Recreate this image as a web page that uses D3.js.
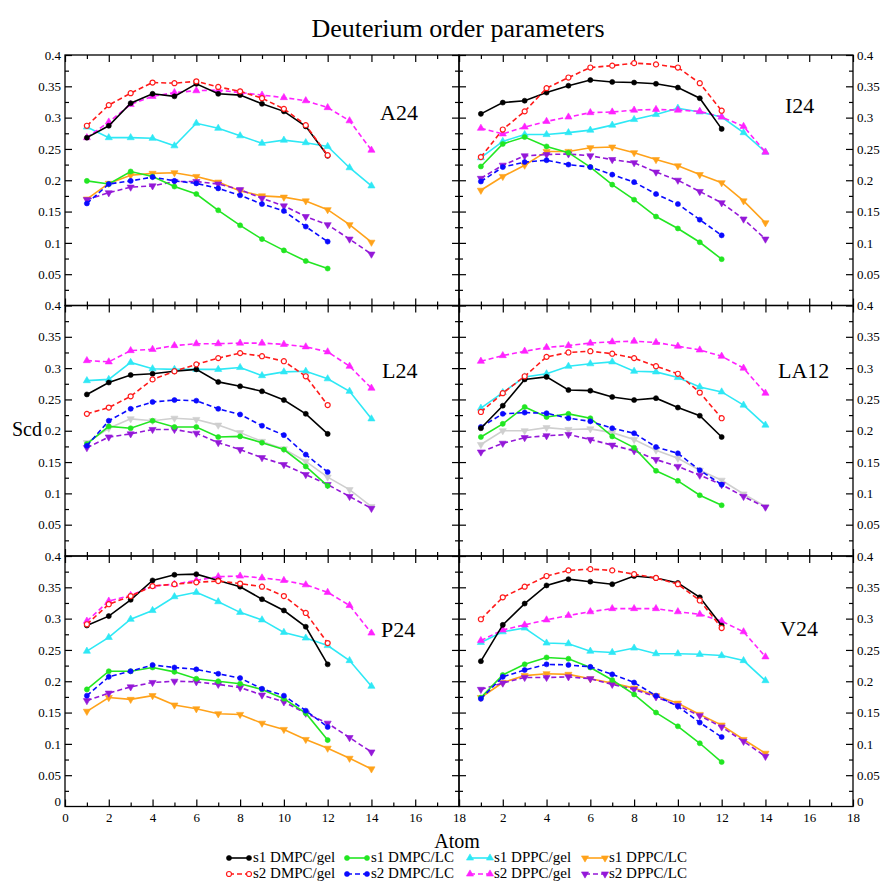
<!DOCTYPE html>
<html>
<head>
<meta charset="utf-8">
<script src="https://cdn.jsdelivr.net/npm/d3@7"></script>
<style>
  body { margin: 0; background: #fff; }
  svg text { font-family: "Liberation Serif", "DejaVu Serif", "Times New Roman", Times, serif !important; fill: #000; }
</style>
</head>
<body>
<div id="chart"></div>
<script>
// series order used in every panel array below
var seriesNames = ["s1 DMPC/gel", "s2 DMPC/gel", "s1 DMPC/LC", "s2 DMPC/LC",
                   "s1 DPPC/gel", "s2 DPPC/gel", "s1 DPPC/LC", "s2 DPPC/LC", "extra"];
var panelNames = ["A24", "I24", "L24", "LA12", "P24", "V24"];
var dmpcAtoms = [1, 2, 3, 4, 5, 6, 7, 8, 9, 10, 11, 12];
var dppcAtoms = [1, 2, 3, 4, 5, 6, 7, 8, 9, 10, 11, 12, 13, 14];
var xTicks = [0, 2, 4, 6, 8, 10, 12, 14, 16, 18];
var yTicks = [0.05, 0.1, 0.15, 0.2, 0.25, 0.3, 0.35, 0.4];

var A24 = [
  [0.268, 0.287, 0.323, 0.338, 0.334, 0.354, 0.338, 0.336, 0.322, 0.310, 0.286, 0.239],
  [0.287, 0.320, 0.339, 0.356, 0.355, 0.358, 0.349, 0.342, 0.331, 0.314, 0.288, 0.240],
  [0.199, 0.194, 0.214, 0.206, 0.190, 0.178, 0.152, 0.128, 0.106, 0.088, 0.071, 0.059],
  [0.163, 0.194, 0.199, 0.205, 0.199, 0.195, 0.187, 0.176, 0.162, 0.151, 0.126, 0.102],
  [0.285, 0.268, 0.268, 0.267, 0.255, 0.291, 0.283, 0.271, 0.259, 0.264, 0.260, 0.254, 0.220, 0.191],
  [0.268, 0.293, 0.321, 0.334, 0.340, 0.343, 0.344, 0.340, 0.336, 0.332, 0.327, 0.316, 0.295, 0.248],
  [0.170, 0.195, 0.208, 0.211, 0.212, 0.206, 0.197, 0.183, 0.175, 0.173, 0.167, 0.153, 0.129, 0.101],
  [0.169, 0.180, 0.189, 0.191, 0.198, 0.198, 0.194, 0.185, 0.171, 0.159, 0.142, 0.129, 0.106, 0.082],
  null
];
var I24 = [
  [0.306, 0.324, 0.327, 0.340, 0.351, 0.360, 0.357, 0.356, 0.354, 0.348, 0.331, 0.282],
  [0.237, 0.281, 0.310, 0.347, 0.364, 0.380, 0.383, 0.387, 0.385, 0.380, 0.355, 0.311],
  [0.222, 0.258, 0.269, 0.254, 0.244, 0.221, 0.193, 0.169, 0.142, 0.123, 0.101, 0.074],
  [0.198, 0.221, 0.229, 0.232, 0.225, 0.221, 0.209, 0.197, 0.178, 0.162, 0.137, 0.112],
  [0.236, 0.262, 0.273, 0.273, 0.276, 0.280, 0.288, 0.297, 0.305, 0.315, 0.309, 0.301, 0.276, 0.245],
  [0.283, 0.274, 0.285, 0.294, 0.301, 0.308, 0.309, 0.312, 0.313, 0.312, 0.310, 0.301, 0.286, 0.245],
  [0.184, 0.206, 0.224, 0.246, 0.246, 0.252, 0.253, 0.244, 0.233, 0.223, 0.209, 0.196, 0.167, 0.132],
  [0.203, 0.224, 0.239, 0.241, 0.242, 0.239, 0.233, 0.228, 0.213, 0.200, 0.182, 0.164, 0.138, 0.106],
  null
];
var L24 = [
  [0.258, 0.277, 0.289, 0.291, 0.295, 0.298, 0.278, 0.271, 0.263, 0.249, 0.227, 0.195],
  [0.227, 0.237, 0.255, 0.282, 0.295, 0.306, 0.316, 0.324, 0.319, 0.311, 0.287, 0.241],
  [0.179, 0.207, 0.204, 0.216, 0.206, 0.206, 0.190, 0.191, 0.181, 0.170, 0.143, 0.112],
  [0.176, 0.216, 0.235, 0.246, 0.249, 0.248, 0.235, 0.226, 0.208, 0.193, 0.162, 0.134],
  [0.280, 0.282, 0.309, 0.299, 0.298, 0.298, 0.298, 0.301, 0.288, 0.294, 0.295, 0.283, 0.263, 0.219],
  [0.312, 0.310, 0.328, 0.330, 0.336, 0.339, 0.339, 0.340, 0.340, 0.338, 0.334, 0.326, 0.303, 0.268],
  null,
  [0.173, 0.190, 0.195, 0.202, 0.202, 0.196, 0.181, 0.170, 0.157, 0.146, 0.130, 0.114, 0.095, 0.076],
  [0.181, 0.204, 0.219, 0.216, 0.220, 0.218, 0.209, 0.197, 0.183, 0.171, 0.151, 0.126, 0.106, 0.079]
];
var LA12 = [
  [0.204, 0.240, 0.282, 0.286, 0.265, 0.264, 0.254, 0.249, 0.252, 0.237, 0.224, 0.190],
  [0.230, 0.260, 0.287, 0.318, 0.325, 0.327, 0.323, 0.316, 0.303, 0.291, 0.261, 0.220],
  [0.190, 0.211, 0.238, 0.222, 0.227, 0.220, 0.191, 0.173, 0.136, 0.120, 0.097, 0.081],
  [0.206, 0.227, 0.229, 0.228, 0.220, 0.215, 0.204, 0.196, 0.174, 0.164, 0.137, 0.114],
  [0.236, 0.261, 0.286, 0.291, 0.303, 0.307, 0.310, 0.295, 0.294, 0.285, 0.270, 0.262, 0.241, 0.209],
  [0.311, 0.320, 0.327, 0.333, 0.336, 0.340, 0.342, 0.343, 0.341, 0.335, 0.329, 0.319, 0.300, 0.260],
  null,
  [0.166, 0.180, 0.189, 0.192, 0.194, 0.186, 0.177, 0.168, 0.154, 0.143, 0.129, 0.114, 0.095, 0.078],
  [0.178, 0.200, 0.200, 0.205, 0.202, 0.203, 0.197, 0.186, 0.169, 0.156, 0.137, 0.121, 0.099, 0.079]
];
var P24 = [
  [0.289, 0.304, 0.330, 0.361, 0.370, 0.371, 0.361, 0.351, 0.331, 0.313, 0.287, 0.227],
  [0.291, 0.323, 0.336, 0.352, 0.355, 0.358, 0.360, 0.356, 0.351, 0.336, 0.309, 0.261],
  [0.187, 0.216, 0.216, 0.222, 0.215, 0.204, 0.200, 0.196, 0.187, 0.172, 0.149, 0.106],
  [0.177, 0.207, 0.216, 0.226, 0.222, 0.219, 0.212, 0.205, 0.188, 0.177, 0.153, 0.127],
  [0.248, 0.270, 0.299, 0.313, 0.335, 0.342, 0.327, 0.310, 0.298, 0.278, 0.269, 0.257, 0.233, 0.192],
  [0.296, 0.328, 0.337, 0.352, 0.355, 0.361, 0.367, 0.368, 0.365, 0.361, 0.354, 0.342, 0.321, 0.277],
  [0.152, 0.174, 0.171, 0.177, 0.162, 0.156, 0.148, 0.147, 0.133, 0.123, 0.107, 0.093, 0.077, 0.060],
  [0.169, 0.181, 0.191, 0.198, 0.200, 0.199, 0.195, 0.190, 0.178, 0.167, 0.149, 0.133, 0.110, 0.087],
  null
];
var V24 = [
  [0.232, 0.290, 0.324, 0.353, 0.363, 0.359, 0.355, 0.368, 0.365, 0.357, 0.334, 0.289],
  [0.299, 0.334, 0.351, 0.368, 0.377, 0.379, 0.377, 0.371, 0.365, 0.355, 0.329, 0.285],
  [0.174, 0.210, 0.227, 0.238, 0.236, 0.222, 0.202, 0.179, 0.150, 0.128, 0.101, 0.071],
  [0.172, 0.207, 0.218, 0.227, 0.226, 0.223, 0.211, 0.198, 0.177, 0.160, 0.134, 0.111],
  [0.262, 0.279, 0.285, 0.261, 0.260, 0.248, 0.246, 0.253, 0.244, 0.244, 0.243, 0.241, 0.233, 0.201],
  [0.265, 0.282, 0.290, 0.298, 0.305, 0.311, 0.316, 0.316, 0.316, 0.311, 0.307, 0.296, 0.279, 0.239],
  [0.174, 0.198, 0.209, 0.212, 0.211, 0.204, 0.197, 0.189, 0.177, 0.165, 0.147, 0.130, 0.107, 0.085],
  [0.187, 0.197, 0.206, 0.206, 0.207, 0.204, 0.195, 0.187, 0.175, 0.161, 0.145, 0.127, 0.104, 0.080],
  null
];
var panelData = [A24, I24, L24, LA12, P24, V24];

// styles, kept apart from the values
var colors = ["#000000", "#ff1a1a", "#22e622", "#0a0aff", "#2ee8f5", "#ff22ff", "#ffa21a", "#9418d8", "#cfcfcf"];
var dashed = [false, true, false, true, false, true, false, true, false];
var symbols = [d3.symbolCircle, d3.symbolCircle, d3.symbolCircle, d3.symbolCircle,
               d3.symbolTriangle, d3.symbolTriangle, "down", "down", "down"];
var hollow = [false, true, false, false, false, false, false, false, false];
var drawOrder = [8, 4, 5, 6, 7, 2, 3, 0, 1];

var W = 882, H = 888;
var left = 65, top0 = 55, pw = 394, ph = 250.5;
var labelPos = [[380, 120], [785, 113], [382, 378], [778, 378], [381, 637], [780, 636]];
var serif = "'Liberation Serif', 'DejaVu Serif', 'Times New Roman', Times, serif";

var svg = d3.select("#chart").append("svg")
    .attr("width", W).attr("height", H)
    .attr("font-family", serif);

svg.append("text")
    .attr("x", 458).attr("y", 37)
    .attr("text-anchor", "middle")
    .style("font-size", "26px")
    .text("Deuterium order parameters");

svg.append("text")
    .attr("x", 27).attr("y", 436)
    .attr("text-anchor", "middle")
    .style("font-size", "20px")
    .text("Scd");

svg.append("text")
    .attr("x", 457).attr("y", 848)
    .attr("text-anchor", "middle")
    .style("font-size", "20px")
    .text("Atom");

function markerPath(i, size) {
    var t = symbols[i] === "down" ? d3.symbolTriangle : symbols[i];
    return d3.symbol().type(t).size(size)();
}
function markerRot(i) { return symbols[i] === "down" ? " rotate(180)" : ""; }

var x = d3.scaleLinear().domain([0, 18]).range([0, pw]);
var y = d3.scaleLinear().domain([0, 0.4]).range([ph, 0]);
var minorX = d3.range(1, 18, 2);
var minorY = d3.range(0.025, 0.4, 0.05);

panelNames.forEach(function (name, p) {
    var col = p % 2, row = Math.floor(p / 2);
    var g = svg.append("g")
        .attr("transform", "translate(" + (left + col * pw) + "," + (top0 + row * ph) + ")");

    // inward ticks on all four sides, major and minor
    function tickAxis(axis, tr) {
        var a = g.append("g").attr("transform", tr).call(axis);
        a.select(".domain").remove();
        a.selectAll("line").attr("stroke", "#000").attr("stroke-width", 1.2);
        return a;
    }
    tickAxis(d3.axisBottom(x).tickValues(xTicks).tickSize(-7).tickFormat(""), "translate(0," + ph + ")");
    tickAxis(d3.axisBottom(x).tickValues(minorX).tickSize(-4).tickFormat(""), "translate(0," + ph + ")");
    tickAxis(d3.axisTop(x).tickValues(xTicks).tickSize(-7).tickFormat(""), "translate(0,0)");
    tickAxis(d3.axisTop(x).tickValues(minorX).tickSize(-4).tickFormat(""), "translate(0,0)");
    tickAxis(d3.axisLeft(y).tickValues(yTicks).tickSize(-7).tickFormat(""), "translate(0,0)");
    tickAxis(d3.axisLeft(y).tickValues(minorY).tickSize(-4).tickFormat(""), "translate(0,0)");
    tickAxis(d3.axisRight(y).tickValues(yTicks).tickSize(-7).tickFormat(""), "translate(" + pw + ",0)");
    tickAxis(d3.axisRight(y).tickValues(minorY).tickSize(-4).tickFormat(""), "translate(" + pw + ",0)");

    // value labels
    var yLabelVals = row === 2 ? [0].concat(yTicks) : yTicks;
    var fmt = function (d) { return String(+d.toFixed(2)); };
    var ya = col === 0
        ? d3.axisLeft(y).tickValues(yLabelVals).tickSize(0).tickPadding(4).tickFormat(fmt)
        : d3.axisRight(y).tickValues(yLabelVals).tickSize(0).tickPadding(4).tickFormat(fmt);
    var yl = g.append("g").attr("transform", "translate(" + (col === 0 ? 0 : pw) + ",0)").call(ya);
    yl.attr("font-family", serif);
    yl.select(".domain").remove();
    yl.selectAll("text").style("font-size", "13px")
        .attr("dy", function (d) { return d === 0 ? "-0.1em" : "0.32em"; });

    if (row === 2) {
        var xv = col === 0 ? xTicks : xTicks.slice(1);
        var xl = g.append("g").attr("transform", "translate(0," + ph + ")")
            .call(d3.axisBottom(x).tickValues(xv).tickSize(0).tickPadding(6).tickFormat(d3.format("d")));
        xl.attr("font-family", serif);
        xl.select(".domain").remove();
        xl.selectAll("text").style("font-size", "13px");
    }

    g.append("rect")
        .attr("width", pw).attr("height", ph)
        .attr("fill", "none").attr("stroke", "#000").attr("stroke-width", 1.3);

    var data = panelData[p];
    var line = d3.line()
        .x(function (d) { return x(d[0]); })
        .y(function (d) { return y(d[1]); });

    drawOrder.forEach(function (s) {
        var vals = data[s];
        if (!vals) return;
        var atoms = vals.length === 12 ? dmpcAtoms : dppcAtoms;
        var pts = vals.map(function (v, k) { return [atoms[k], v]; });
        var sg = g.append("g").attr("class", "series");
        sg.append("path")
            .datum(pts)
            .attr("d", line)
            .attr("fill", "none")
            .attr("stroke", colors[s])
            .attr("stroke-width", 1.6)
            .attr("stroke-dasharray", dashed[s] ? "5,3" : null);
        sg.selectAll("path.pt")
            .data(pts)
            .enter().append("path")
            .attr("class", "pt")
            .attr("d", markerPath(s, symbols[s] === d3.symbolCircle ? 20 : 22))
            .attr("transform", function (d) {
                return "translate(" + x(d[0]) + "," + y(d[1]) + ")" + markerRot(s);
            })
            .attr("fill", hollow[s] ? "#fff" : colors[s])
            .attr("stroke", colors[s])
            .attr("stroke-width", hollow[s] ? 1.2 : 0.6);
    });

    svg.append("text")
        .attr("x", labelPos[p][0]).attr("y", labelPos[p][1])
        .style("font-size", "22px")
        .text(name);
});

// legend: four columns, two rows
var legCols = [229, 347, 470, 585];
var legRows = [862, 878];
for (var s = 0; s < 8; s++) {
    var lx = legCols[Math.floor(s / 2)], ly = legRows[s % 2];
    var lg = svg.append("g").attr("class", "legend");
    lg.append("line")
        .attr("x1", lx).attr("x2", lx + 20)
        .attr("y1", ly - 4).attr("y2", ly - 4)
        .attr("stroke", colors[s]).attr("stroke-width", 1.6)
        .attr("stroke-dasharray", dashed[s] ? "5,3" : null);
    [lx, lx + 20].forEach(function (mx) {
        lg.append("path")
            .attr("d", markerPath(s, symbols[s] === d3.symbolCircle ? 20 : 22))
            .attr("transform", "translate(" + mx + "," + (ly - 4) + ")" + markerRot(s))
            .attr("fill", hollow[s] ? "#fff" : colors[s])
            .attr("stroke", colors[s])
            .attr("stroke-width", hollow[s] ? 1.2 : 0.6);
    });
    lg.append("text")
        .attr("x", lx + 24).attr("y", ly)
        .style("font-size", "15px")
        .text(seriesNames[s]);
}
</script>
</body>
</html>
